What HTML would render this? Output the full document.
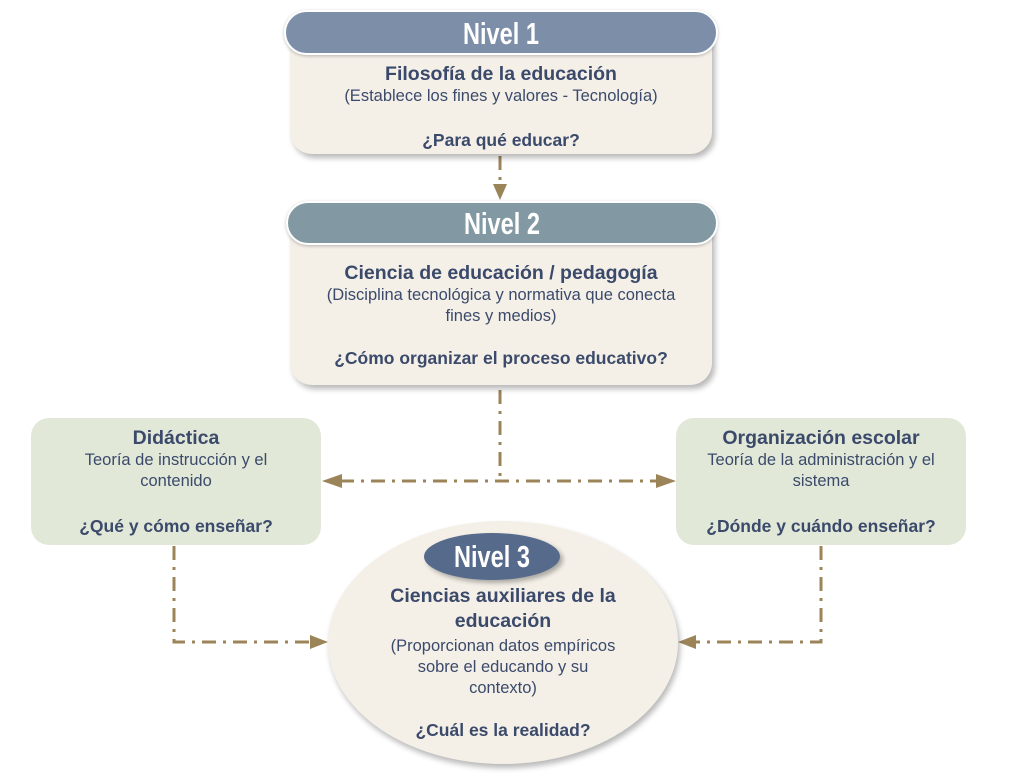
<!DOCTYPE html>
<html><head><meta charset="utf-8">
<style>
html,body{margin:0;padding:0;background:#fff;}
body{width:1013px;height:779px;position:relative;overflow:hidden;font-family:"Liberation Sans",sans-serif;color:#3b4a6b;}
.abs{position:absolute;}
.body{background:#f4f0e8;border-radius:0 0 22px 22px;box-shadow:3px 4px 6px rgba(0,0,0,0.28);text-align:center;}
.pill{border:2px solid #fff;border-radius:24px;color:#fff;text-align:center;font-weight:bold;font-size:31px;box-shadow:0 1px 3px rgba(0,0,0,0.25);}
.pill span,.n3 span{display:inline-block;transform:scaleX(0.76);}
.t{font-weight:bold;font-size:19.5px;line-height:24px;white-space:nowrap;}
.s{font-size:16.5px;line-height:21px;white-space:nowrap;}
.q{font-weight:bold;font-size:17.5px;line-height:22px;white-space:nowrap;}
.green{background:#e1e8d8;border-radius:18px;text-align:center;}
</style></head><body>
<svg class="abs" style="left:0;top:0" width="1013" height="779">
<g stroke="#9c8459" stroke-width="3" fill="none" stroke-dasharray="14,7,3,7">
<line x1="500" y1="156" x2="500" y2="186"/>
<line x1="500" y1="390" x2="500" y2="480"/>
<line x1="340" y1="481" x2="660" y2="481"/>
<polyline points="174,546 174,642 312,642"/>
<polyline points="821,546 821,642 694,642"/>
</g>
<g fill="#9c8459">
<polygon points="493,184 507,184 500,200"/>
<polygon points="322,481 342,474 342,488"/>
<polygon points="676,481 656,474 656,488"/>
<polygon points="328,642 310,635 310,649"/>
<polygon points="678,642 696,635 696,649"/>
</g>
</svg>

<div class="abs body" style="left:290px;top:40px;width:422px;height:114px;">
<div class="t" style="margin-top:22px;">Filosofía de la educación</div>
<div class="s">(Establece los fines y valores - Tecnología)</div>
<div class="q" style="margin-top:22px;">¿Para qué educar?</div>
</div>
<div class="abs pill" style="left:284px;top:10px;width:430px;height:41px;line-height:43px;background:#7d8ea9;"><span>Nivel 1</span></div>

<div class="abs body" style="left:290px;top:230px;width:422px;height:155px;">
<div class="t" style="margin-top:31px;">Ciencia de educación / pedagogía</div>
<div class="s">(Disciplina tecnológica y normativa que conecta<br>fines y medios)</div>
<div class="q" style="margin-top:20px;">¿Cómo organizar el proceso educativo?</div>
</div>
<div class="abs pill" style="left:286px;top:201px;width:428px;height:40px;line-height:42px;background:#8299a3;"><span>Nivel 2</span></div>

<div class="abs green" style="left:31px;top:418px;width:290px;height:127px;">
<div class="t" style="margin-top:8px;">Didáctica</div>
<div class="s">Teoría de instrucción y el<br>contenido</div>
<div class="q" style="margin-top:23px;">¿Qué y cómo enseñar?</div>
</div>
<div class="abs green" style="left:676px;top:418px;width:290px;height:127px;">
<div class="t" style="margin-top:8px;">Organización escolar</div>
<div class="s">Teoría de la administración y el<br>sistema</div>
<div class="q" style="margin-top:23px;">¿Dónde y cuándo enseñar?</div>
</div>

<div class="abs" style="left:328px;top:521px;width:350px;height:243px;border-radius:50%;background:#f4f0e8;box-shadow:2px 4px 6px rgba(0,0,0,0.28);text-align:center;">
<div class="t" style="margin-top:63px;line-height:25px;">Ciencias auxiliares de la<br>educación</div>
<div class="s" style="margin-top:2px;">(Proporcionan datos empíricos<br>sobre el educando y su<br>contexto)</div>
<div class="q" style="margin-top:20px;">¿Cuál es la realidad?</div>
</div>
<div class="abs n3" style="left:424px;top:533px;width:136px;height:47px;border-radius:50%;background:#566a8c;color:#fff;text-align:center;line-height:47px;font-weight:bold;font-size:31px;box-shadow:3px 3px 5px rgba(0,0,0,0.3);"><span>Nivel 3</span></div>
</body></html>
